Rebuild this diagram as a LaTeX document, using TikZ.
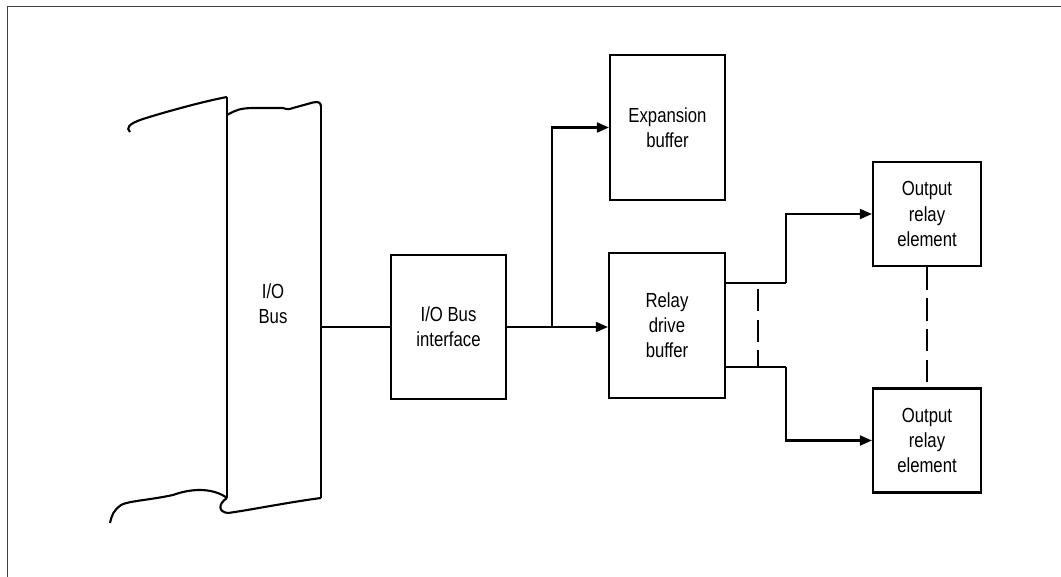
\documentclass[tikz,border=0pt]{standalone}
\usepackage{fontspec}
\setmainfont{Liberation Sans}[FakeStretch=0.82]
\usetikzlibrary{arrows.meta, positioning}

\begin{document}
\begin{tikzpicture}[
    x=0.025cm, y=-0.025cm,
    box/.style={draw, line width=1.5pt, minimum width=2.875cm, minimum height=3.6cm,
                align=center, inner sep=0pt},
    outbox/.style={box, minimum width=2.7cm, minimum height=2.6cm},
    arr/.style={-{Triangle[length=8.5pt, width=7pt]}, line width=1.5pt},
    wire/.style={line width=1.5pt},
    gap/.style={line width=1.5pt, dash pattern=on 16pt off 6pt},
    font=\fontsize{14.5}{17.8}\selectfont
]
    \useasboundingbox (0,0) rectangle (1061,577);
    % frame
    \draw[line width=1.1pt, black!75] (1061,6.5) -- (7.5,6.5) -- (7.5,577);

    % the bus, drawn as a torn sheet
    \draw[wire] (227,97) -- (227,498);
    \draw[wire] (321,107) -- (321,498);
    \draw[wire] (227,97) .. controls (205,101) and (165,112) .. (143,119)
        .. controls (128,124) and (126,128) .. (130,132);
    \draw[wire] (227,115) .. controls (236,110) and (240,108) .. (255,108)
        -- (283,108) .. controls (287,109.5) and (289,109.5) .. (293,108)
        -- (313,102.5) .. controls (319,101) and (321,103) .. (321,107);
    \draw[wire] (227,498) .. controls (215,489) and (195,487) .. (173,495)
        .. controls (150,500) and (128,501) .. (121,505)
        .. controls (113,511) and (112,515) .. (110,523);
    \draw[wire] (227,498) .. controls (218,504) and (218,512) .. (228,513)
        .. controls (250,510) and (290,502) .. (321,498);
    \node[align=center] (bus) at (273,304) {I/O\\Bus};
    \coordinate (busR) at (321,327);

    \node[box] (ioif) at (448.5,327) {I/O Bus\\interface};
    \node[box, minimum height=3.625cm] (exp) at (667.5,127.5) {Expansion\\buffer};
    \node[box, minimum height=3.625cm, minimum width=2.9cm] (relay) at (667,325.5) {Relay\\drive\\buffer};
    \node[outbox] (out1) at (927,214) {Output\\relay\\element};
    \node[outbox] (out2) at (927,440.5) {Output\\relay\\element};

    \coordinate (split) at (552,327);
    \coordinate (r1) at (725,283);
    \coordinate (r2) at (725,367);
    \coordinate (j1) at (786,283);
    \coordinate (j2) at (786,367);
    \coordinate (t1) at (758,283);
    \coordinate (t2) at (758,367);

    \draw[wire] (busR) -- (ioif.west |- busR);
    \draw[arr] (ioif.east |- split) -- (relay.west |- split);
    \draw[arr] (split) |- (exp.west);
    \draw[wire] (r1) -- (j1);
    \draw[wire] (r2) -- (j2);
    \draw[arr] (j1) |- (out1.west);
    \draw[arr] (j2) |- (out2.west);
    \draw[gap, dash phase=-4pt] (t1) -- (t2);
    \draw[gap] (out1.south) -- (out2.north);
\end{tikzpicture}
\end{document}
